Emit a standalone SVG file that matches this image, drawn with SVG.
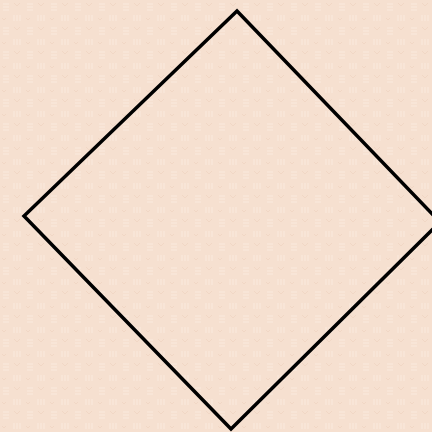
<svg xmlns="http://www.w3.org/2000/svg" width="432" height="432" viewBox="0 0 432 432">
<defs>
<pattern id="tex" width="24" height="24" patternUnits="userSpaceOnUse">
<rect width="24" height="24" fill="#f6e0d0"/>
<path d="M3 4h6M3 7h6M3 10h6M14 15v6M17 15v6M20 15v6" stroke="#fbeadf" stroke-width="1"/>
<path d="M14 3l3 3l3-3M2 18l2 2l2-2" stroke="#f1d7c5" stroke-width="1" fill="none"/>
</pattern>
</defs>
<rect width="432" height="432" fill="url(#tex)"/>
<g id="square">
<polygon points="237,11 440,222 231,429 24,216" fill="none" stroke="#000" stroke-width="3.5" stroke-linejoin="miter"/>
</g>
</svg>
